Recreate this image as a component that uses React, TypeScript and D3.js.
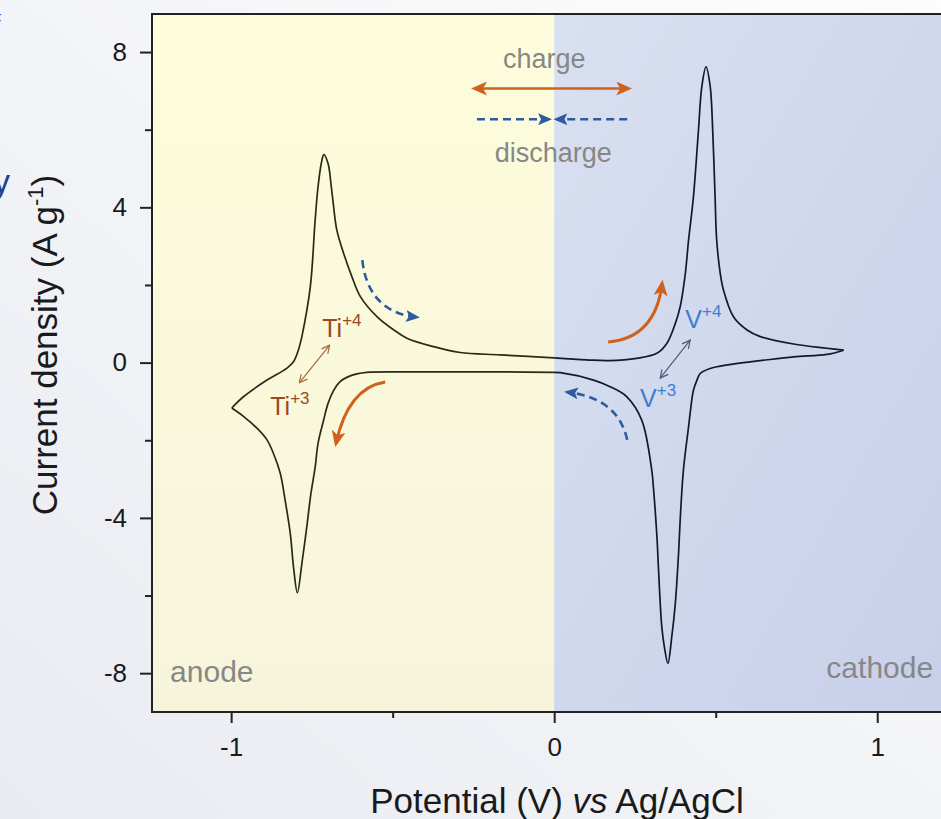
import { useEffect, useRef } from "react";
import * as d3 from "d3";

// Ti electrode (anode) – oxidation branch, -1 V -> 0 V
const anodeOxPotential = [-0.998, -0.962, -0.889, -0.828, -0.807, -0.792, -0.786, -0.781, -0.755, -0.74, -0.731, -0.721, -0.713, -0.7, -0.69, -0.684, -0.673, -0.652, -0.626, -0.6, -0.548, -0.496, -0.456, -0.373, -0.291, -0.167, 0];
const anodeOxCurrent = [-1.17, -0.88, -0.45, -0.15, 0.02, 0.32, 0.5, 0.67, 1.95, 3.67, 4.53, 5.13, 5.36, 5.13, 4.53, 4.1, 3.42, 2.82, 2.21, 1.7, 1.18, 0.84, 0.63, 0.41, 0.26, 0.2, 0.12];
// Ti electrode – reduction branch, 0 V -> -1 V
const anodeRedPotential = [0, -0.15, -0.291, -0.45, -0.58, -0.611, -0.642, -0.663, -0.683, -0.7, -0.714, -0.731, -0.74, -0.753, -0.766, -0.781, -0.795, -0.807, -0.817, -0.833, -0.848, -0.869, -0.889, -0.92, -0.961, -0.998];
const anodeRedCurrent = [-0.25, -0.24, -0.24, -0.24, -0.25, -0.29, -0.38, -0.49, -0.72, -1.05, -1.49, -2.08, -2.7, -3.37, -4.24, -5.17, -5.93, -5.26, -4.4, -3.54, -2.85, -2.34, -1.99, -1.69, -1.39, -1.17];
// V electrode (cathode) – oxidation branch, 0 V -> 0.9 V
const cathodeOxPotential = [0, 0.1, 0.17, 0.256, 0.318, 0.349, 0.375, 0.39, 0.406, 0.416, 0.431, 0.446, 0.457, 0.47, 0.483, 0.491, 0.498, 0.503, 0.514, 0.524, 0.555, 0.597, 0.638, 0.741, 0.844, 0.896];
const cathodeOxCurrent = [0.12, 0.07, 0.05, 0.11, 0.24, 0.5, 1.01, 1.44, 2.3, 3.16, 4.27, 5.91, 7.11, 7.62, 7.11, 5.91, 4.27, 3.16, 2.3, 1.87, 1.18, 0.84, 0.67, 0.48, 0.37, 0.32];
// V electrode – reduction branch, 0.9 V -> 0 V
const cathodeRedPotential = [0.896, 0.844, 0.741, 0.638, 0.586, 0.514, 0.483, 0.452, 0.442, 0.431, 0.426, 0.416, 0.4, 0.39, 0.385, 0.375, 0.364, 0.352, 0.341, 0.333, 0.323, 0.318, 0.307, 0.302, 0.271, 0.225, 0.173, 0.122, 0.019, 0];
const cathodeRedCurrent = [0.32, 0.21, 0.15, 0.05, 0.0, -0.09, -0.15, -0.28, -0.45, -0.71, -0.96, -1.65, -2.77, -4.05, -4.91, -6.2, -7.06, -7.75, -7.32, -6.8, -5.34, -4.48, -3.2, -2.77, -1.48, -0.88, -0.62, -0.45, -0.26, -0.25];

const xTicks = [-1, 0, 1];
const xMinorTicks = [-0.5, 0.5];
const yTicks = [-8, -4, 0, 4, 8];
const yMinorTicks = [-6, -2, 2, 6];

// curved direction arrows: [start, control, end] in (V, A/g)
const anodeDischargeArrow = [[-0.594, 2.64], [-0.576, 1.3], [-0.425, 1.17]];
const anodeChargeArrow = [[-0.523, -0.5], [-0.638, -0.65], [-0.675, -2.07]];
const cathodeChargeArrow = [[0.167, 0.53], [0.313, 0.63], [0.334, 2.03]];
const cathodeDischargeArrow = [[0.226, -1.99], [0.198, -0.91], [0.04, -0.76]];

const W = 941, H = 819;
const FONT = "'Liberation Sans', Arial, sans-serif";
const ORANGE = "#d0611c";
const BLUE = "#2f5a9e";
const GRAY = "#878787";

const zip = (a: number[], b: number[]) => a.map((v, i) => [v, b[i]] as [number, number]);

export default function App() {
  const xAxisRef = useRef<SVGGElement>(null);
  const yAxisRef = useRef<SVGGElement>(null);

  const x = d3.scaleLinear().domain([-1.245, 1.25]).range([152, 958]);
  const y = d3.scaleLinear().domain([-9, 8.98]).range([712, 14]);

  useEffect(() => {
    const styleAxis = (g: any) => {
      g.select(".domain").remove();
      g.selectAll("line").attr("stroke", "#222").attr("stroke-width", 2);
      g.selectAll("text").attr("font-size", 26).attr("font-family", FONT).attr("fill", "#1a1a1a");
    };
    const xg = d3.select(xAxisRef.current);
    xg.selectAll("*").remove();
    xg.append("g").call(d3.axisBottom(x).tickValues(xTicks).tickSize(11).tickPadding(15).tickSizeOuter(0).tickFormat((d: any) => String(d))).call(styleAxis);
    xg.append("g").call(d3.axisBottom(x).tickValues(xMinorTicks).tickSize(6).tickSizeOuter(0).tickFormat(() => "")).call(styleAxis);

    const yg = d3.select(yAxisRef.current);
    yg.selectAll("*").remove();
    yg.append("g").call(d3.axisLeft(y).tickValues(yTicks).tickSize(12).tickPadding(13).tickSizeOuter(0).tickFormat((d: any) => String(d))).call(styleAxis);
    yg.append("g").call(d3.axisLeft(y).tickValues(yMinorTicks).tickSize(7).tickSizeOuter(0).tickFormat(() => "")).call(styleAxis);
  }, []);

  const line = d3.line<[number, number]>()
    .x(d => x(d[0]))
    .y(d => y(d[1]))
    .curve(d3.curveCatmullRom.alpha(0.5));

  const curved = (pts: number[][]) => {
    const p = d3.path();
    p.moveTo(x(pts[0][0]), y(pts[0][1]));
    p.quadraticCurveTo(x(pts[1][0]), y(pts[1][1]), x(pts[2][0]), y(pts[2][1]));
    return p.toString();
  };

  const x0 = x(0);
  const plotL = x(-1.245), plotR = x(1.25), plotT = y(8.98), plotB = y(-9);

  return (
    <svg width={W} height={H} style={{ position: "absolute", left: 0, top: 0, display: "block" }} fontFamily={FONT}>
      <defs>
        <linearGradient id="bg" x1="1" y1="0" x2="0" y2="1">
          <stop offset="0" stopColor="#fdfdfe" />
          <stop offset="1" stopColor="#e9ebf1" />
        </linearGradient>
        <linearGradient id="anodeBg" x1="0" y1="0" x2="0" y2="1">
          <stop offset="0" stopColor="#fdfcdb" />
          <stop offset="1" stopColor="#f6f5dc" />
        </linearGradient>
        <linearGradient id="cathodeBg" x1="0" y1="0" x2="1" y2="1">
          <stop offset="0" stopColor="#d8e0f1" />
          <stop offset="1" stopColor="#c8cfe9" />
        </linearGradient>
        <clipPath id="plotClip">
          <rect x={plotL} y={plotT} width={plotR - plotL} height={plotB - plotT} />
        </clipPath>
        <marker id="headOrange" viewBox="0 0 16 14" refX="12" refY="7" markerWidth="16" markerHeight="14" markerUnits="userSpaceOnUse" orient="auto-start-reverse">
          <path d="M0,0 L16,7 L0,14 L4,7 Z" fill={ORANGE} />
        </marker>
        <marker id="headBlue" viewBox="0 0 14 12" refX="11" refY="6" markerWidth="14" markerHeight="12" markerUnits="userSpaceOnUse" orient="auto-start-reverse">
          <path d="M0,0 L14,6 L0,12 L3,6 Z" fill={BLUE} />
        </marker>
        <marker id="headTi" viewBox="0 0 10 10" refX="9" refY="5" markerWidth="10" markerHeight="10" markerUnits="userSpaceOnUse" orient="auto-start-reverse">
          <path d="M1,1 L9,5 L1,9" fill="none" stroke="#a8693f" strokeWidth="1.2" />
        </marker>
        <marker id="headV" viewBox="0 0 10 10" refX="9" refY="5" markerWidth="10" markerHeight="10" markerUnits="userSpaceOnUse" orient="auto-start-reverse">
          <path d="M1,1 L9,5 L1,9" fill="none" stroke="#4d5b7c" strokeWidth="1.2" />
        </marker>
      </defs>

      <rect x={0} y={0} width={W} height={H} fill="url(#bg)" />
      {/* fragments of the neighbouring panel */}
      <text x={-9} y={26} fontSize={17} fill="#233f8f">F</text>
      <text x={-7} y={193} fontSize={34} fill="#233f8f">y</text>

      {/* electrode regions */}
      <rect x={plotL} y={plotT} width={x0 - plotL} height={plotB - plotT} fill="url(#anodeBg)" />
      <rect x={x0} y={plotT} width={plotR - x0} height={plotB - plotT} fill="url(#cathodeBg)" />

      <text x={x(-1.189)} y={y(-8.23)} fontSize={30} fill={GRAY}>anode</text>
      <text x={x(1.173)} y={y(-8.12)} fontSize={30} fill={GRAY} textAnchor="end">cathode</text>

      {/* CV curves */}
      <g clipPath="url(#plotClip)" fill="none" strokeWidth={1.7} strokeLinejoin="round">
        <path d={line(zip(anodeOxPotential, anodeOxCurrent)) || ""} stroke="#2a2a17" />
        <path d={line(zip(anodeRedPotential, anodeRedCurrent)) || ""} stroke="#2a2a17" />
        <path d={line(zip(cathodeOxPotential, cathodeOxCurrent)) || ""} stroke="#111a2c" />
        <path d={line(zip(cathodeRedPotential, cathodeRedCurrent)) || ""} stroke="#111a2c" />
      </g>

      {/* legend arrows */}
      <text x={x(-0.031)} y={y(7.59)} fontSize={27} fill={GRAY} textAnchor="middle">charge</text>
      <line x1={x(-0.245)} y1={y(7.06)} x2={x(0.229)} y2={y(7.06)} stroke={ORANGE} strokeWidth={2.6}
        markerStart="url(#headOrange)" markerEnd="url(#headOrange)" />
      <line x1={x(-0.239)} y1={y(6.27)} x2={x(-0.016)} y2={y(6.27)} stroke={BLUE} strokeWidth={2.6}
        strokeDasharray="8,5" markerEnd="url(#headBlue)" />
      <line x1={x(0.226)} y1={y(6.27)} x2={x(0.007)} y2={y(6.27)} stroke={BLUE} strokeWidth={2.6}
        strokeDasharray="8,5" markerEnd="url(#headBlue)" />
      <text x={x(-0.003)} y={y(5.17)} fontSize={27} fill={GRAY} textAnchor="middle">discharge</text>

      {/* curved scan-direction arrows */}
      <path d={curved(anodeDischargeArrow)} fill="none" stroke={BLUE} strokeWidth={2.6} strokeDasharray="8,5" markerEnd="url(#headBlue)" />
      <path d={curved(anodeChargeArrow)} fill="none" stroke={ORANGE} strokeWidth={3} markerEnd="url(#headOrange)" />
      <path d={curved(cathodeChargeArrow)} fill="none" stroke={ORANGE} strokeWidth={3} markerEnd="url(#headOrange)" />
      <path d={curved(cathodeDischargeArrow)} fill="none" stroke={BLUE} strokeWidth={2.6} strokeDasharray="8,5" markerEnd="url(#headBlue)" />

      {/* redox couples */}
      <line x1={x(-0.789)} y1={y(-0.52)} x2={x(-0.695)} y2={y(0.45)} stroke="#a8693f" strokeWidth={1.2}
        markerStart="url(#headTi)" markerEnd="url(#headTi)" />
      <text x={x(-0.718)} y={y(0.66)} fontSize={25} fill="#9a4a1e">Ti<tspan fontSize={17} dy={-11}>+4</tspan></text>
      <text x={x(-0.879)} y={y(-1.35)} fontSize={25} fill="#9a4a1e">Ti<tspan fontSize={17} dy={-11}>+3</tspan></text>
      <line x1={x(0.328)} y1={y(-0.4)} x2={x(0.421)} y2={y(0.58)} stroke="#4d5b7c" strokeWidth={1.2}
        markerStart="url(#headV)" markerEnd="url(#headV)" />
      <text x={x(0.406)} y={y(0.89)} fontSize={25} fill="#3c7fcc">V<tspan fontSize={17} dy={-11}>+4</tspan></text>
      <text x={x(0.266)} y={y(-1.14)} fontSize={25} fill="#3c7fcc">V<tspan fontSize={17} dy={-11}>+3</tspan></text>

      {/* frame */}
      <path d={`M${plotR},${plotT} H${plotL} V${plotB} H${plotR}`} fill="none" stroke="#222" strokeWidth={2} />

      <g ref={xAxisRef} transform={`translate(0,${plotB})`} />
      <g ref={yAxisRef} transform={`translate(${plotL},0)`} />

      {/* axis titles */}
      <text x={557} y={813} fontSize={35} fill="#1a1a1a" textAnchor="middle">
        Potential (V) <tspan fontStyle="italic">vs</tspan> Ag/AgCl
      </text>
      <text transform="translate(57,345) rotate(-90)" fontSize={35} fill="#1a1a1a" textAnchor="middle">
        Current density (A g<tspan fontSize={22} dy={-14}>-1</tspan><tspan dy={14}>)</tspan>
      </text>
    </svg>
  );
}
